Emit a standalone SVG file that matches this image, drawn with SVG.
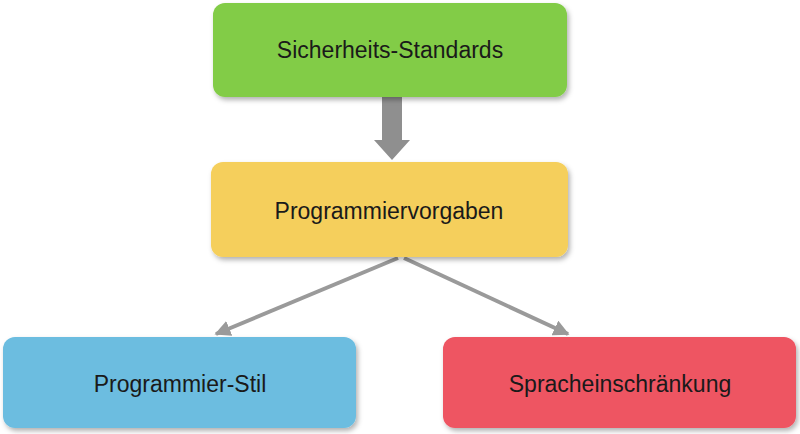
<svg xmlns="http://www.w3.org/2000/svg" width="800" height="434" viewBox="0 0 800 434">
<defs>
<filter id="sh" x="-10%" y="-10%" width="130%" height="140%"><feDropShadow dx="2" dy="3" stdDeviation="2.5" flood-color="#000" flood-opacity="0.3"/></filter>
<marker id="ah" viewBox="0 0 10 10" refX="9" refY="5" markerWidth="4" markerHeight="4" orient="auto"><path d="M0,0 L10,5 L0,10 z" fill="#9a9a9a"/></marker>
</defs>
<style>
.box{filter:url(#sh)}
.t{font-family:"Liberation Sans",Arial,sans-serif;font-size:23px;fill:#1a1a1a;text-anchor:middle;dominant-baseline:central}
.ln{stroke:#9a9a9a;stroke-width:4;fill:none}
</style>
<rect width="800" height="434" fill="#fff"/>
<g id="connectors">
<path d="M382,97 H402 V140 H410 L392,160 L374,140 H382 Z" fill="#8f8f8f"/>
<line class="ln" x1="398" y1="258" x2="216" y2="334" marker-end="url(#ah)"/>
<line class="ln" x1="404" y1="258" x2="568" y2="334" marker-end="url(#ah)"/>
</g>
<g id="n1"><rect class="box" x="213" y="3" width="354" height="94" rx="12" fill="#82cc47"/><text class="t" x="390" y="50">Sicherheits-Standards</text></g>
<g id="n2"><rect class="box" x="211" y="162" width="357" height="95" rx="12" fill="#f5cf5c"/><text class="t" x="389" y="211">Programmiervorgaben</text></g>
<g id="n3"><rect class="box" x="3" y="337" width="353" height="91" rx="12" fill="#6cbde0"/><text class="t" x="180" y="384">Programmier-Stil</text></g>
<g id="n4"><rect class="box" x="443" y="337" width="353" height="91" rx="12" fill="#ee5462"/><text class="t" x="620" y="384">Spracheinschränkung</text></g>
</svg>
